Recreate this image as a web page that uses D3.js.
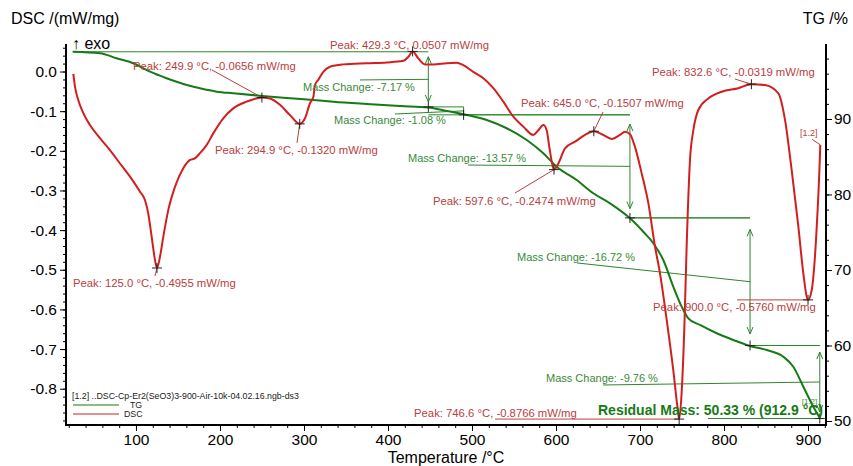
<!DOCTYPE html>
<html><head><meta charset="utf-8">
<script src="https://cdn.jsdelivr.net/npm/d3@7"></script>
<style>
html,body{margin:0;padding:0;background:#fff;}
svg{display:block;font-family:"Liberation Sans",Arial,sans-serif;}
</style></head><body>
<svg id="c" width="853" height="466"></svg>
<script>
// ---------- DATA ----------
const dscTemp = [25.4, 27.4, 31.3, 37.3, 45.2, 57.1, 69.0, 81.0, 92.9, 104.8, 110.7, 114.6, 118.7, 122.6, 125.0, 128.6, 132.5, 138.5, 146.4, 156.3, 164.3, 170.2, 176.2, 184.2, 192.0, 203.9, 215.8, 231.8, 249.9, 259.5, 271.4, 283.3, 294.9, 301.2, 307.1, 311.1, 313.1, 317.0, 323.0, 331.0, 346.8, 374.6, 398.5, 418.2, 424.2, 429.3, 436.1, 444.0, 453.9, 469.9, 481.8, 489.6, 501.5, 513.5, 525.4, 537.3, 549.2, 561.1, 573.0, 578.9, 584.9, 588.9, 592.0, 595.0, 597.6, 602.8, 610.7, 622.6, 634.5, 645.0, 656.3, 666.3, 676.2, 682.1, 688.1, 694.0, 702.0, 709.9, 717.9, 723.8, 731.8, 739.6, 744.5, 746.6, 749.5, 752.8, 755.5, 759.5, 763.5, 769.4, 781.3, 797.2, 817.0, 832.6, 848.8, 864.7, 872.6, 880.5, 888.5, 894.4, 900.0, 904.4, 910.4, 914.0, 914.6];
const dscValue = [-0.006, -0.038, -0.072, -0.105, -0.135, -0.168, -0.198, -0.232, -0.265, -0.303, -0.324, -0.358, -0.417, -0.475, -0.4955, -0.467, -0.417, -0.349, -0.291, -0.244, -0.223, -0.219, -0.206, -0.185, -0.156, -0.118, -0.093, -0.076, -0.0656, -0.068, -0.084, -0.110, -0.1320, -0.118, -0.080, -0.064, -0.034, -0.021, -0.001, 0.012, 0.018, 0.021, 0.023, 0.027, 0.037, 0.0507, 0.033, 0.018, 0.018, 0.021, 0.022, 0.016, -0.001, -0.017, -0.042, -0.076, -0.114, -0.139, -0.160, -0.148, -0.135, -0.148, -0.190, -0.228, -0.2474, -0.232, -0.194, -0.177, -0.160, -0.1507, -0.160, -0.170, -0.160, -0.152, -0.158, -0.190, -0.257, -0.332, -0.442, -0.509, -0.627, -0.753, -0.845, -0.8766, -0.812, -0.644, -0.442, -0.223, -0.148, -0.097, -0.068, -0.051, -0.042, -0.0319, -0.034, -0.055, -0.122, -0.248, -0.391, -0.509, -0.5760, -0.551, -0.391, -0.223, -0.185];

const tgTemp = [24.6, 57.1, 77.0, 96.8, 116.7, 136.5, 156.3, 176.2, 196.1, 215.8, 250.4, 275.4, 311.1, 334.9, 374.6, 414.3, 448.0, 469.9, 493.7, 517.5, 541.3, 565.1, 584.9, 600.8, 624.6, 644.4, 664.3, 688.1, 703.9, 715.8, 727.7, 739.6, 749.6, 757.5, 771.4, 791.3, 811.1, 829.8, 850.8, 870.6, 882.5, 894.4, 906.3, 914.3];
const tgValue = [98.9, 98.7, 98.04, 97.38, 96.26, 95.39, 94.64, 94.07, 93.62, 93.40, 93.05, 92.82, 92.52, 92.29, 91.99, 91.72, 91.52, 91.06, 90.53, 89.87, 88.77, 87.22, 85.46, 83.68, 81.92, 80.16, 78.83, 76.85, 75.07, 73.54, 71.32, 67.79, 65.14, 63.60, 62.72, 61.62, 60.73, 59.97, 59.40, 58.52, 57.19, 54.54, 51.89, 50.36];

const tempTicks = [100, 200, 300, 400, 500, 600, 700, 800, 900];
const dscTicks = [0.0, -0.1, -0.2, -0.3, -0.4, -0.5, -0.6, -0.7, -0.8];
const tgTicks = [50, 60, 70, 80, 90];

// DSC peak evaluations
const peakTemps  = [125.0, 249.9, 294.9, 429.3, 597.6, 645.0, 746.6, 832.6, 900.0];
const peakValues = [-0.4955, -0.0656, -0.1320, 0.0507, -0.2474, -0.1507, -0.8766, -0.0319, -0.5760];
const peakLabels = ["Peak: 125.0 °C, -0.4955 mW/mg", "Peak: 249.9 °C, -0.0656 mW/mg", "Peak: 294.9 °C, -0.1320 mW/mg",
  "Peak: 429.3 °C, 0.0507 mW/mg", "Peak: 597.6 °C, -0.2474 mW/mg", "Peak: 645.0 °C, -0.1507 mW/mg",
  "Peak: 746.6 °C, -0.8766 mW/mg", "Peak: 832.6 °C, -0.0319 mW/mg", "Peak: 900.0 °C, -0.5760 mW/mg"];
const peakLabelTemp  = [25.0, 96.4, 194.0, 331.0, 453.6, 558.3, 431.0, 714.3, 715.5];
const peakLabelValue = [-0.533, 0.014, -0.198, 0.068, -0.3266, -0.0794, -0.861, -0.0013, -0.594];
// leader start points (end at the peak); null = none
const leaderTemp  = [122.6, 190.5, 291.7, null, 551.2, 656.0, 527.4, 813.1, 815.5];
const leaderValue = [-0.516, 0.0038, -0.180, null, -0.3064, -0.102, -0.8766, -0.019, -0.5760];

// TG mass-change evaluations
const massLabels = ["Mass Change: -7.17 %", "Mass Change: -1.08 %", "Mass Change: -13.57 %", "Mass Change: -16.72 %", "Mass Change: -9.76 %"];
const massStepTemps = [448, 490, 688, 831, 914];
const massLevels = [98.9, 91.6, 90.55, 76.9, 60.0, 50.33];
const massLevelStart = [25, 448, 448, 688, 831];
const massLabelTemp = [298.8, 335.7, 423.8, 553.6, 588.1];
const massLabelValue = [94.24, 89.87, 84.83, 71.72, 55.70];
const massLeaderTemp = [366.7, 408.3, 495.2, 625.0, 656.0];
const massLeaderValue = [95.17, 90.66, 83.90, 70.93, 54.77];
const residualLabel = "Residual Mass: 50.33 % (912.9 °C)";
const residualTemp = [650.0, 781.0];
const legendFile = "[1.2] ..DSC-Cp-Er2(SeO3)3-900-Air-10k-04.02.16.ngb-ds3";

// ---------- SCALES ----------
const W = 853, H = 466;
const L = 66, R = 826, T = 44, B = 425;
const x = d3.scaleLinear().domain([16.7, 921.4]).range([L, R]);
const yD = d3.scaleLinear().domain([-0.8915, 0.0694]).range([B, T]);
const yT = d3.scaleLinear().domain([49.47, 99.93]).range([B, T]);

const RED = "#d11f1f", RED_TXT = "#b8403e", GREEN = "#167a16", GREEN_TXT = "#3a8a3a", GREEN_LN = "#2e862e";
const FONT = '"Liberation Sans", Arial, sans-serif';
const svg = d3.select("#c");
svg.append("rect").attr("width", W).attr("height", H).attr("fill", "#fff");

// ---------- AXES ----------
function styleAxis(sel, size) {
  sel.select(".domain").remove();
  sel.selectAll("line").attr("stroke", "#000").attr("stroke-width", 1);
  sel.selectAll("text").attr("fill", "#000").style("font-size", size + "px").style("font-family", FONT);
}
const fmt1 = d => d.toFixed(1);
const dscMinor = d3.range(-88, 7, 2).map(v => v / 100);
const tempMinor = d3.range(20, 921, 20);
const tgMinor = d3.range(50, 100, 2);

svg.append("g").attr("transform", `translate(${L},0)`).call(d3.axisLeft(yD).tickValues(dscMinor).tickSize(3).tickSizeOuter(0).tickFormat("")).call(styleAxis, 15);
svg.append("g").attr("transform", `translate(${L},0)`).call(d3.axisLeft(yD).tickValues(dscTicks).tickSize(6).tickSizeOuter(0).tickPadding(3).tickFormat(fmt1)).call(styleAxis, 15.5);
svg.append("g").attr("transform", `translate(0,${B})`).call(d3.axisBottom(x).tickValues(tempMinor).tickSize(3).tickSizeOuter(0).tickFormat("")).call(styleAxis, 15);
svg.append("g").attr("transform", `translate(0,${B})`).call(d3.axisBottom(x).tickValues(tempTicks).tickSize(6).tickSizeOuter(0).tickPadding(3).tickFormat(d3.format("d"))).call(styleAxis, 15.5);
svg.append("g").attr("transform", `translate(${R},0)`).call(d3.axisRight(yT).tickValues(tgMinor).tickSize(3).tickSizeOuter(0).tickFormat("")).call(styleAxis, 15);
svg.append("g").attr("transform", `translate(${R},0)`).call(d3.axisRight(yT).tickValues(tgTicks).tickSize(6).tickSizeOuter(0).tickPadding(2).tickFormat(d3.format("d"))).call(styleAxis, 15.5);

const axisLines = svg.append("g").attr("stroke", "#000").attr("stroke-width", 2);
axisLines.append("line").attr("x1", L).attr("x2", L).attr("y1", T).attr("y2", B + 1);
axisLines.append("line").attr("x1", R).attr("x2", R).attr("y1", T).attr("y2", B + 1);
axisLines.append("line").attr("x1", L - 1).attr("x2", R + 1).attr("y1", B).attr("y2", B);

// titles
svg.append("text").attr("x", 11).attr("y", 18).attr("dy", "0.35em").style("font-size", "16px").style("font-family", FONT).text("DSC /(mW/mg)");
svg.append("text").attr("x", 848).attr("y", 18).attr("dy", "0.35em").attr("text-anchor", "end").style("font-size", "16px").style("font-family", FONT).text("TG /%");
svg.append("text").attr("x", (x(16.7) + x(921.4)) / 2).attr("y", 457).attr("dy", "0.35em").attr("text-anchor", "middle").style("font-size", "16px").style("font-family", FONT).text("Temperature /°C");
svg.append("text").attr("x", 72).attr("y", 43).attr("dy", "0.35em").style("font-size", "16px").style("font-family", FONT).text("↑ exo");

// ---------- TG annotations ----------
const ann = svg.append("g").attr("stroke", GREEN_LN).attr("stroke-width", 1).attr("fill", "none");
function hline(t1, t2, v) { ann.append("line").attr("x1", x(t1)).attr("x2", x(t2)).attr("y1", yT(v)).attr("y2", yT(v)); }
function arrow(t, vTop, vBot, heads) {
  const xp = x(t), y1 = yT(vTop), y2 = yT(vBot);
  const ins = heads ? (y2 - y1) * 0.09 : 0;
  ann.append("line").attr("x1", xp).attr("x2", xp).attr("y1", y1 + ins).attr("y2", y2 - ins);
  if (heads) {
    ann.append("polyline").attr("points", `${xp - 3},${y1 + ins + 7} ${xp},${y1 + ins} ${xp + 3},${y1 + ins + 7}`);
    ann.append("polyline").attr("points", `${xp - 3},${y2 - ins - 7} ${xp},${y2 - ins} ${xp + 3},${y2 - ins - 7}`);
  }
}
massStepTemps.forEach((t, i) => {
  hline(massLevelStart[i], t, massLevels[i]);
  arrow(t, massLevels[i], massLevels[i + 1], i !== 1);
  const mid = (massLevels[i] + massLevels[i + 1]) / 2;
  ann.append("line").attr("x1", x(massLeaderTemp[i])).attr("y1", yT(massLeaderValue[i])).attr("x2", x(t)).attr("y2", yT(mid));
});
hline(massStepTemps[1], massStepTemps[2], massLevels[2]);
hline(massStepTemps[2], massStepTemps[3], massLevels[3]);
hline(massStepTemps[3], massStepTemps[4], massLevels[4]);
hline(residualTemp[1], massStepTemps[4], massLevels[5]);

// ---------- DSC leaders ----------
const rann = svg.append("g").attr("stroke", RED_TXT).attr("stroke-width", 1);
peakTemps.forEach((t, i) => {
  if (leaderTemp[i] === null) return;
  rann.append("line").attr("x1", x(leaderTemp[i])).attr("y1", yD(leaderValue[i])).attr("x2", x(t)).attr("y2", yD(peakValues[i]));
});
rann.append("line").attr("x1", x(904.8)).attr("y1", yD(-0.171)).attr("x2", x(dscTemp[dscTemp.length - 1])).attr("y2", yD(dscValue[dscValue.length - 1]));

// ---------- CURVES ----------
const tgLine = d3.line().x((d, i) => x(tgTemp[i])).y(d => yT(d)).curve(d3.curveMonotoneX);
svg.append("path").attr("d", tgLine(tgValue)).attr("fill", "none").attr("stroke", GREEN).attr("stroke-width", 2);
const dscLine = d3.line().x((d, i) => x(dscTemp[i])).y(d => yD(d)).curve(d3.curveMonotoneX);
svg.append("path").attr("d", dscLine(dscValue)).attr("fill", "none").attr("stroke", RED).attr("stroke-width", 2);

// ---------- MARKERS ----------
const mk = svg.append("g").attr("stroke", "#222").attr("stroke-width", 1);
function plus(px, py) {
  mk.append("line").attr("x1", px - 5).attr("x2", px + 5).attr("y1", py).attr("y2", py);
  mk.append("line").attr("x1", px).attr("x2", px).attr("y1", py - 5).attr("y2", py + 5);
}
peakTemps.forEach((t, i) => plus(x(t), yD(peakValues[i])));
massStepTemps.forEach((t, i) => plus(x(t), yT(massLevels[i + 1])));

// ---------- LABELS ----------
const lbl = svg.append("g").style("font-family", FONT);
peakLabels.forEach((s, i) => {
  lbl.append("text").attr("x", x(peakLabelTemp[i])).attr("y", yD(peakLabelValue[i])).attr("dy", "0.35em")
    .attr("fill", RED_TXT).style("font-size", "11.3px").text(s);
});
massLabels.forEach((s, i) => {
  lbl.append("text").attr("x", x(massLabelTemp[i])).attr("y", yT(massLabelValue[i])).attr("dy", "0.35em")
    .attr("fill", GREEN_TXT).style("font-size", "11px").text(s);
});
lbl.append("text").attr("x", x(residualTemp[0])).attr("y", yT(51.46)).attr("dy", "0.35em")
  .attr("fill", GREEN).style("font-size", "14px").style("font-weight", "bold").text(residualLabel);
lbl.append("text").attr("x", x(890.5)).attr("y", yD(-0.155)).attr("dy", "0.35em").attr("fill", RED_TXT).style("font-size", "9px").text("[1.2]");
lbl.append("text").attr("x", x(892.5)).attr("y", yT(52.6)).attr("dy", "0.35em").attr("fill", GREEN_TXT).style("font-size", "8px").text("[1.2]");

// ---------- LEGEND ----------
const lg = svg.append("g").style("font-family", FONT).style("font-size", "8.8px");
lg.append("text").attr("x", 72).attr("y", 396).attr("dy", "0.35em").attr("fill", "#222").text(legendFile);
lg.append("line").attr("x1", 73).attr("x2", 119).attr("y1", 405).attr("y2", 405).attr("stroke", GREEN).attr("stroke-width", 1);
lg.append("text").attr("x", 130).attr("y", 405).attr("dy", "0.35em").attr("fill", "#222").text("TG");
lg.append("line").attr("x1", 73).attr("x2", 119).attr("y1", 414).attr("y2", 414).attr("stroke", RED).attr("stroke-width", 1);
lg.append("text").attr("x", 124).attr("y", 414).attr("dy", "0.35em").attr("fill", "#222").text("DSC");
</script>
</body></html>
